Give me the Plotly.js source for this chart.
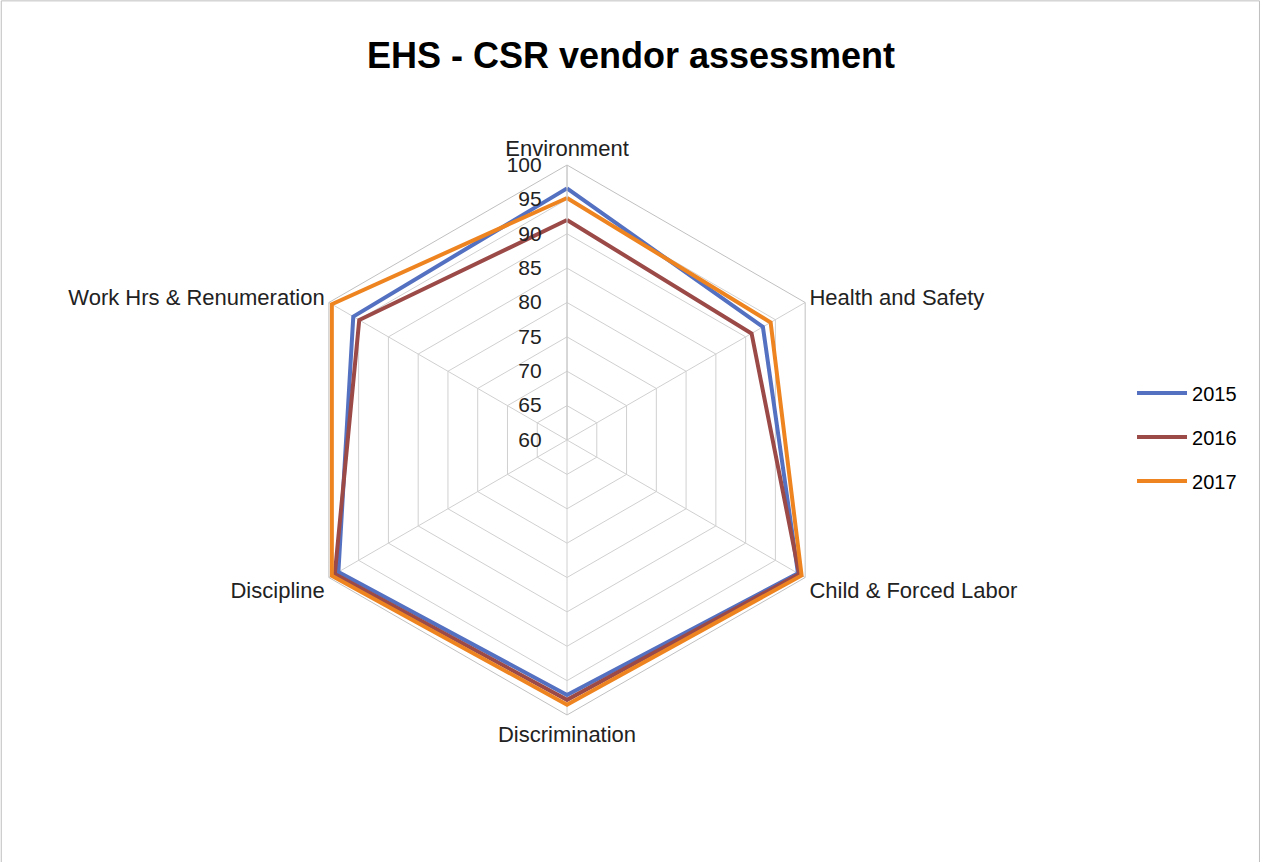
<!DOCTYPE html>
<html>
<head>
<meta charset="utf-8">
<script src="https://cdn.plot.ly/plotly-3.0.1.min.js"></script>
<style>html,body{margin:0;padding:0;background:#fff;}#chart{width:1262px;height:862px;}</style>
</head>
<body>
<div id="chart"></div>
<script>
const categories = ["Environment", "Health and Safety", "Child & Forced Labor", "Discrimination", "Discipline", "Work Hrs & Renumeration"];
const seriesNames = ["2015", "2016", "2017"];
const values2015 = [96.6, 92.9, 98.8, 97.1, 98.4, 95.9];
const values2016 = [92.0, 91.0, 99.0, 97.8, 99.0, 94.9];
const values2017 = [95.2, 94.2, 99.4, 98.5, 99.5, 99.5];
const radialTicks = [60, 65, 70, 75, 80, 85, 90, 95, 100];

const colors = ["#5470C0", "#9B4A48", "#EE8420"];
const allValues = [values2015, values2016, values2017];

const traces = allValues.map((v, i) => ({
  type: "scatterpolar",
  mode: "lines",
  r: v.concat([v[0]]),
  theta: categories.concat([categories[0]]),
  name: seriesNames[i],
  legendgroup: "g" + i,
  line: {color: colors[i], width: 4},
  hoverinfo: "skip"
}));

const layout = {
  width: 1262, height: 862,
  margin: {l: 0, r: 0, t: 0, b: 0},
  paper_bgcolor: "#fff",
  font: {family: "Liberation Sans, Arial, sans-serif", color: "#404040", size: 20},
  title: {text: "<b>EHS - CSR vendor assessment</b>", x: 0.5, xanchor: "center", y: 0.936, yanchor: "middle",
          font: {family: "Liberation Sans, Arial, sans-serif", size: 36, color: "#000"}},
  showlegend: true,
  legend: {x: 0.897, y: 0.493, xanchor: "left", yanchor: "middle", font: {size: 20, color: "#000"},
           tracegroupgap: 15, itemwidth: 50, bgcolor: "rgba(0,0,0,0)"},
  polar: {
    domain: {x: [0.2314, 0.6672], y: [0.1705, 0.8086]},
    gridshape: "linear",
    bgcolor: "#fff",
    radialaxis: {
      range: [60, 100], tickvals: radialTicks, ticktext: radialTicks.map(t => t + "\u00a0\u00a0\u00a0"),
      angle: 90, tickangle: 90, side: "counterclockwise", showline: true, linecolor: "#c8c8c8", linewidth: 1,
      gridcolor: "#d0d0d0", gridwidth: 1, ticks: "", tickfont: {size: 21, color: "#222"}
    },
    angularaxis: {
      direction: "clockwise", rotation: 90, linecolor: "#c0c0c0", linewidth: 1,
      gridcolor: "#d0d0d0", ticks: "", tickfont: {size: 22, color: "#222"}
    }
  },
  shapes: [
    {type: "line", xref: "paper", yref: "paper", x0: 0.001, x1: 0.001, y0: 0, y1: 0.999, line: {color: "#bfbfbf", width: 1}},
    {type: "line", xref: "paper", yref: "paper", x0: 0.001, x1: 0.998, y0: 0.999, y1: 0.999, line: {color: "#bfbfbf", width: 1}},
    {type: "line", xref: "paper", yref: "paper", x0: 0.998, x1: 0.998, y0: 0, y1: 0.999, line: {color: "#bfbfbf", width: 1}}
  ]
};

Plotly.newPlot("chart", traces, layout, {displayModeBar: false, staticPlot: true});
</script>
</body>
</html>
